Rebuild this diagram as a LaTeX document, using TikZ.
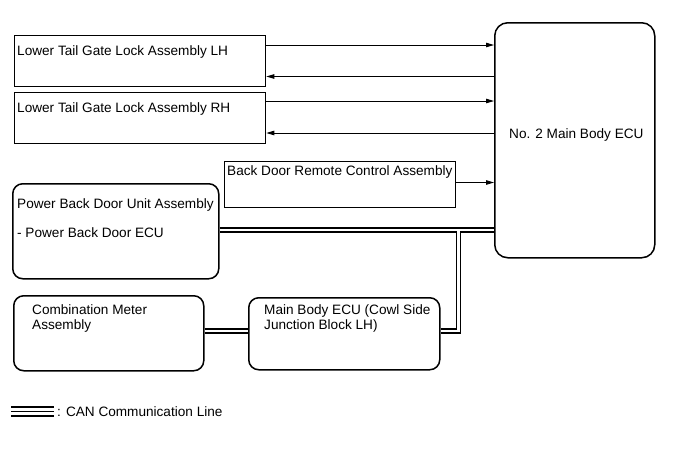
\documentclass[tikz,border=0pt]{standalone}
\usepackage{fontspec}
\setmainfont{Liberation Sans}
\usetikzlibrary{arrows.meta}

\begin{document}
\begin{tikzpicture}[x=1pt,y=-1pt,>={Triangle[length=8pt,width=4.5pt]},
    unit/.style={draw, line width=1.3pt, anchor=north west, inner sep=0pt},
    ecu box/.style={unit, rounded corners=10pt, line width=1.5pt},
    txt/.style={anchor=base west, inner sep=0pt, align=left, font=\fontsize{13.6}{15}\selectfont},
    sig/.style={->, line width=0.9pt},
    can/.style={double, double distance=2.4pt, line width=1.4pt}]

    \useasboundingbox (0,0) rectangle (690,464);

    % boxes
    \node[unit, minimum width=251pt, minimum height=51pt] (lh) at (14,35) {};
    \node[unit, minimum width=251pt, minimum height=51pt] (rh) at (14,92) {};
    \node[unit, minimum width=231pt, minimum height=46pt] (bdr) at (224,161) {};
    \node[ecu box, minimum width=160pt, minimum height=235pt, rounded corners=13pt] (ecu) at (494,22) {};
    \node[ecu box, minimum width=206pt, minimum height=95pt] (pbd) at (12,183) {};
    \node[ecu box, minimum width=190pt, minimum height=75pt] (cm) at (13,295) {};
    \node[ecu box, minimum width=191pt, minimum height=72pt] (mb) at (248,297) {};

    % texts (multi-line ones sit on their last baseline)
    \node[txt] (lhT) at ([xshift=3pt,yshift=-20pt]lh.north west) {Lower Tail Gate Lock Assembly LH};
    \node[txt] (rhT) at ([xshift=3pt,yshift=-20pt]rh.north west) {Lower Tail Gate Lock Assembly RH};
    \node[txt] (bdrT) at ([xshift=3pt,yshift=-14pt]bdr.north west) {Back Door Remote Control Assembly};
    \node[txt] (ecuT) at ([xshift=15pt,yshift=-116pt]ecu.north west) {No. 2 Main Body ECU};
    \node[txt] (pbdT) at ([xshift=5pt,yshift=-54pt]pbd.north west) {Power Back Door Unit Assembly\\[14pt]- Power Back Door ECU};
    \node[txt] (cmT) at ([xshift=19pt,yshift=-34pt]cm.north west) {Combination Meter\\Assembly};
    \node[txt] (mbT) at ([xshift=16pt,yshift=-32pt]mb.north west) {Main Body ECU (Cowl Side\\Junction Block LH)};

    % signal lines
    \coordinate (lhOut) at ([yshift=-10pt]lh.north east);
    \coordinate (lhIn) at ([yshift=-41.5pt]lh.north east);
    \coordinate (rhOut) at ([yshift=-9pt]rh.north east);
    \coordinate (rhIn) at ([yshift=-41pt]rh.north east);
    \coordinate (bdrOut) at ([yshift=-21.5pt]bdr.north east);

    \draw[sig] (lhOut) -- (lhOut -| ecu.west);
    \draw[sig] (lhIn -| ecu.west) -- (lhIn);
    \draw[sig] (rhOut) -- (rhOut -| ecu.west);
    \draw[sig] (rhIn -| ecu.west) -- (rhIn);
    \draw[sig] (bdrOut) -- (bdrOut -| ecu.west);

    % CAN bus
    \coordinate (canL) at ([yshift=-47pt]pbd.north east);
    \coordinate (tap) at (458.5,230);
    \coordinate (mbIn) at ([yshift=-34pt]mb.north east);
    \draw[can] (canL) -- (canL -| ecu.west)
        (tap) -- (tap |- mbIn) -- (mbIn);
    \draw[can] (mbIn -| cm.east) -- (mbIn -| mb.west);

    % legend
    \coordinate (legA) at (11,411.5);
    \coordinate (legB) at (54,411.5);
    \draw[line width=10.5pt] (legA) -- (legB);
    \draw[white, line width=6.5pt] (legA) -- (legB);
    \draw[line width=1.1pt] (legA) -- (legB);
    \node[txt] (legT) at (57,416) {: CAN Communication Line};
\end{tikzpicture}
\end{document}
